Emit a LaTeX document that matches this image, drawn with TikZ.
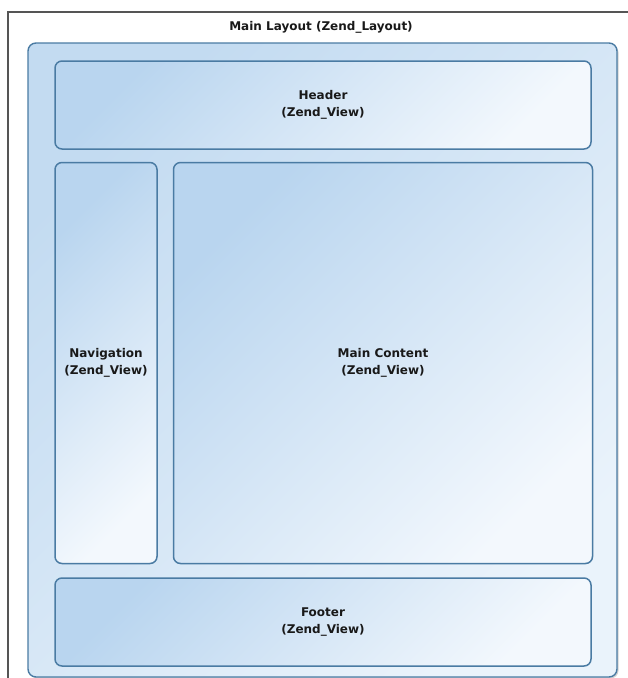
\documentclass[tikz,border=0pt]{standalone}
\usepackage{fontspec}
\setmainfont{DejaVu Sans}
\usetikzlibrary{positioning,shadows}
\definecolor{viewline}{HTML}{4A7BA3}
\definecolor{viewdark}{HTML}{B9D5EF}
\definecolor{viewlight}{HTML}{F3F8FD}
\definecolor{layoutdark}{HTML}{C3DBF1}
\definecolor{layoutlight}{HTML}{EAF3FB}
\definecolor{frameline}{HTML}{555555}

\begin{document}
\begin{tikzpicture}[
    x=1pt, y=-1pt,
    every node/.style={font=\fontsize{12}{17.5}\selectfont\bfseries, text=black!90},
    layout/.style={draw=viewline, line width=1.4pt, rounded corners=8pt,
        left color=layoutdark, right color=layoutlight, shading angle=45,
        drop shadow={opacity=0.35, shadow xshift=1.5pt, shadow yshift=-1.5pt}},
    view/.style={draw=viewline, line width=1.5pt, rounded corners=7pt, align=center,
        left color=viewdark, right color=viewlight, shading angle=45}
]
\useasboundingbox (0,0) rectangle (628,678);
\fill[white] (0,0) rectangle (628,678);
\draw[frameline, line width=1.2pt] (8,690) -- (8,12) -- (640,12);
\node (title) at (321,27) {Main Layout (Zend\_Layout)};
\node[layout, minimum width=589pt, minimum height=634pt] (layout) at (322.5,360) {};
\node[view, minimum width=536pt, minimum height=88pt] (header) at (323,105) {Header\\(Zend\_View)};
\node[view, minimum width=102pt, minimum height=401pt, below right=12pt and 0pt of header.south west] (nav) {Navigation\\(Zend\_View)};
\node[view, minimum width=419pt, minimum height=401pt, right=15pt of nav] (content) {Main Content\\(Zend\_View)};
\node[view, minimum width=536pt, minimum height=88pt, below right=13pt and 0pt of nav.south west] (footer) {Footer\\(Zend\_View)};
\end{tikzpicture}
\end{document}
